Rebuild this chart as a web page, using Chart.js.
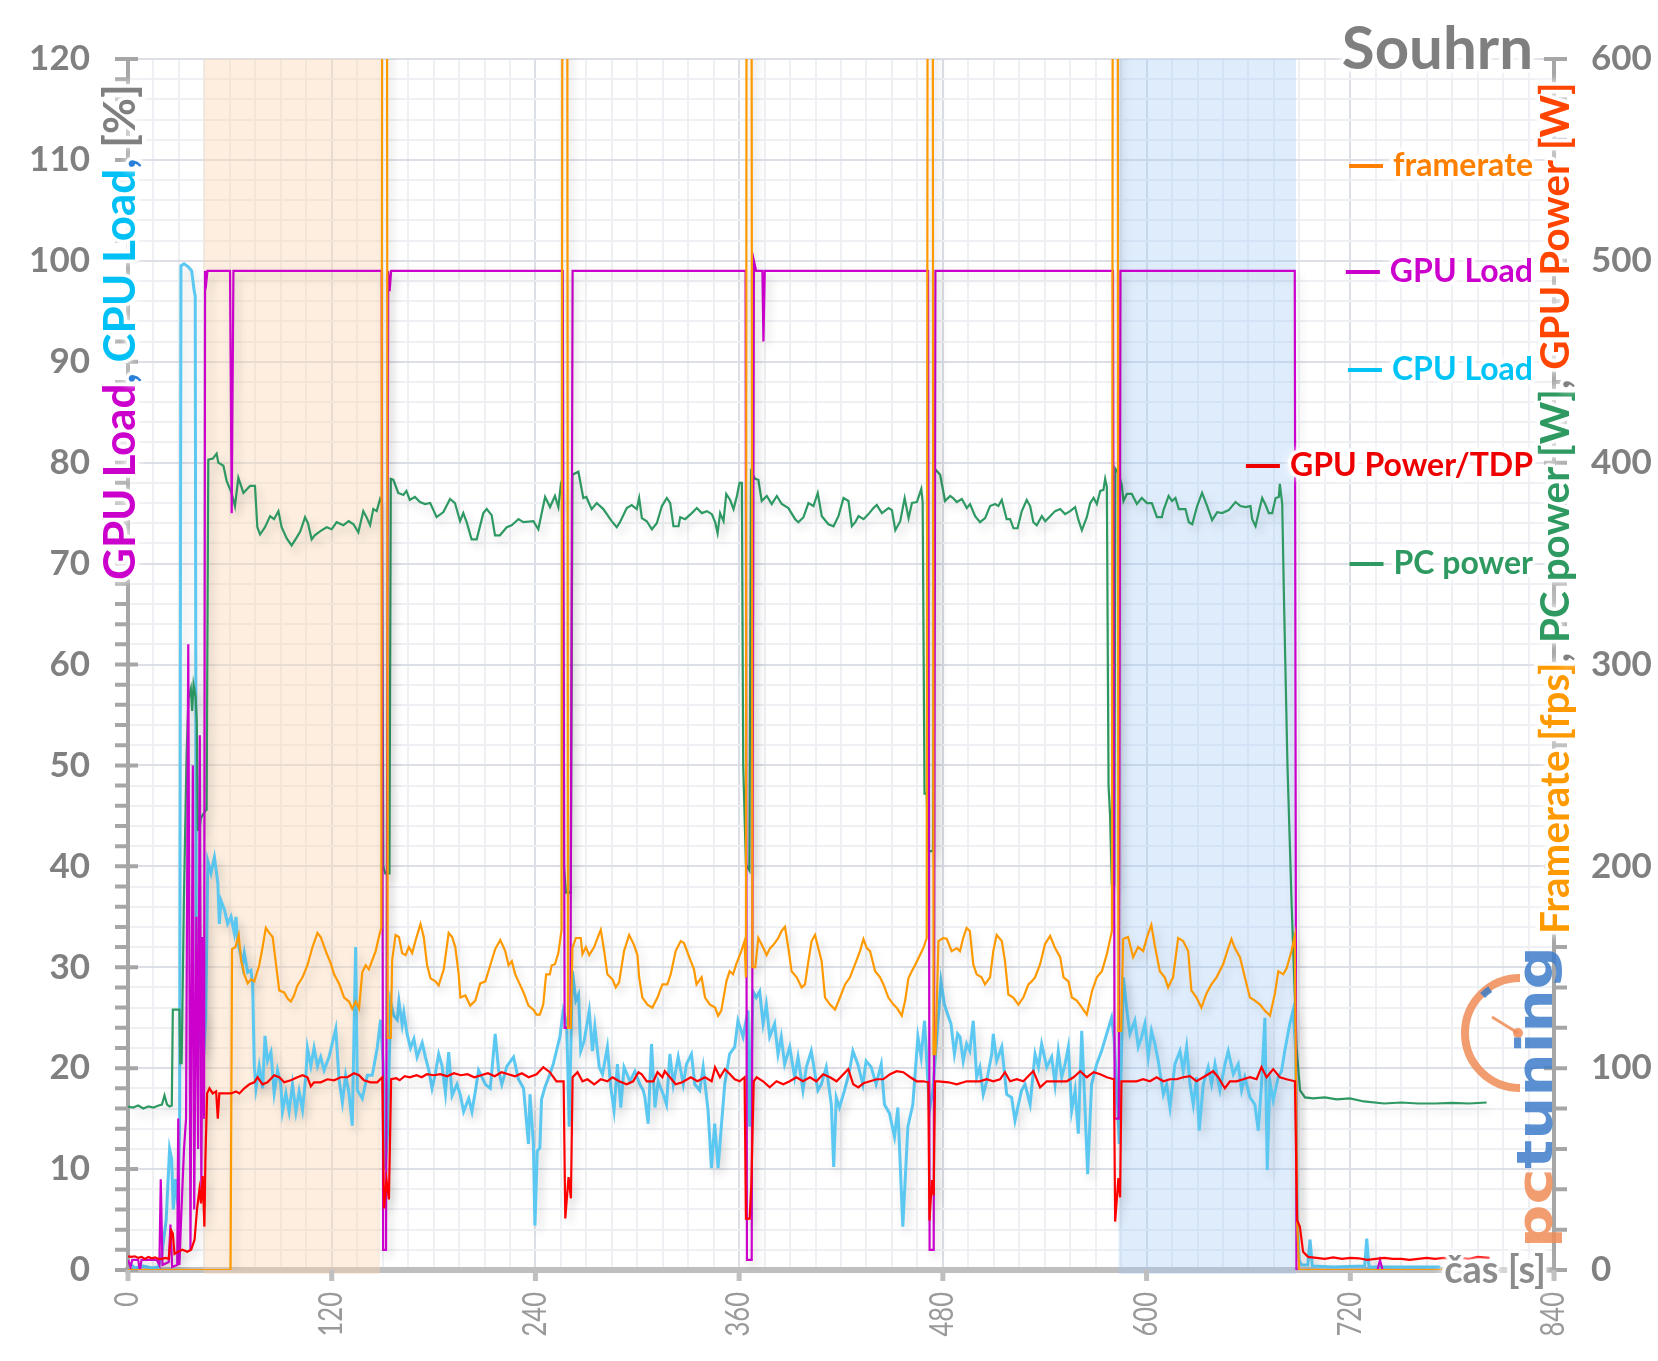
<!DOCTYPE html>
<html>
<head>
<meta charset="utf-8">
<title>Souhrn</title>
<script src="https://cdn.jsdelivr.net/npm/chart.js@4.4.1/dist/chart.umd.min.js"></script>
<style>
  html, body { margin: 0; padding: 0; background: #fff; }
  #wrap { width: 1658px; height: 1361px; }
</style>
</head>
<body>
<div id="wrap"><canvas id="chart" width="1658" height="1361"></canvas></div>
<script>
// time [s] / value pairs
const gpuLoad = [[0,1],[1.5,0.3],[2.5,1],[6,1],[7,0],[8,1],[17,1],[18.5,0.5],[19.3,9],[20.3,0.5],[24,0.8],[25,4.5],[26,0.3],[29,0.5],[29.6,15],[30.3,0.5],[31.5,6],[33,12],[34.2,15],[35.5,62],[36.8,2],[38.2,50],[39,6],[40.3,35],[41.3,12],[42.3,53],[43.2,8],[44,33],[44.8,15],[45.4,99],[46.2,98],[46.8,99],[60.1,99],[61.1,75],[62.1,99],[149.4,99],[150.3,2],[152,2],[153.3,99],[154.1,97],[155,99],[256.1,99],[257.2,24],[260.6,24],[261.9,99],[363.8,99],[364.6,1],[367.4,1],[368.7,100],[370,99],[373.7,99],[374.3,92],[375.1,99],[471.3,99],[472.2,2],[474.6,2],[475.6,99],[580.2,99],[581.2,15],[583.6,15],[584.6,99],[687.3,99],[688.3,0],[736,0],[737.5,1],[739,0],[773,0]];

const cpuLoad = [[0,0.8],[4,0.2],[9,0.4],[14,0.2],[18,0.3],[20,1.6],[22.5,5],[24.5,12],[25.7,11],[26.7,6],[28,9],[29.4,6.5],[30.4,14],[31.2,99.5],[33,99.7],[35.5,99.4],[37.5,99],[39,97],[39.6,96.5],[40.2,30],[41.5,22],[43,26],[44.5,21],[45.8,25],[47,40.5],[48.9,39.3],[50.9,40.9],[52.9,38.4],[53.8,34.3],[54.8,36.6],[56.8,35.7],[58.7,34.3],[60.7,35],[62.6,33.4],[63.6,35],[64.6,32.5],[66.6,31.1],[67.5,30.2],[68.5,31.4],[70.5,29.5],[72.4,29.7],[73.4,28.4],[74.4,20.2],[75.4,18],[77.3,20.2],[79.3,18],[80.7,23.2],[82.2,20.7],[84.2,21.6],[86.1,17.5],[88.1,19.8],[90,18.4],[91,15.7],[93,17.5],[94.9,15.7],[96.9,18.4],[98.9,15.7],[100.8,17.7],[102.8,15.9],[104.8,19.3],[105.7,22],[107.7,20.2],[109.6,22],[111.6,20.2],[113.5,21.1],[115.5,19.8],[118.4,21.1],[120.4,22.5],[122.4,23.9],[124.3,18.9],[126.3,16.6],[128.2,19.3],[130.2,17.5],[132.1,14.3],[134.1,32],[135.1,17.8],[138,17],[141,19.3],[143.9,19.3],[146.8,22],[148.8,24.8],[150.4,20.2],[151.5,10],[153,14],[154.7,26.6],[156.6,25.2],[158.6,24.8],[159.6,26.6],[161.5,24.3],[162.5,25.5],[164.4,23.4],[166.4,22],[168.4,22.9],[170.3,21.1],[173.3,22.5],[175.2,21.1],[177.2,19.8],[179.1,18],[181.1,19.5],[183,21.4],[185,20.2],[187,17.5],[188.9,21.6],[190.9,17.3],[193.8,18.4],[195.8,17.3],[197.7,15.7],[200.7,17],[202.6,15.7],[204.6,17.7],[206.5,19.8],[210.5,18.4],[213.4,18],[216.3,23.4],[218.3,19.8],[220.2,18.4],[223.2,20.2],[227.1,21.1],[230,18.9],[233,18],[235.9,12.5],[236.8,17.4],[238.8,12.5],[239.7,4.4],[241.1,11.8],[242.6,12.1],[243.6,16.9],[245.6,18.1],[248.5,19.4],[250.5,20.4],[252.4,21.7],[254.4,23.1],[256.4,25.7],[258.4,24.4],[259.9,14.2],[261.8,29.6],[263.8,26.7],[265.4,27.3],[266.7,21.7],[268.7,22.7],[271.7,25.7],[273.6,21.7],[275,24.1],[277.6,20.1],[279.5,19.4],[282.4,22.1],[284.4,18.1],[286.3,15.8],[288.3,20.4],[290.3,16.1],[292.2,20.1],[295.7,18.7],[298.6,19.7],[301.5,18.4],[303.5,17.8],[304.5,17.1],[306.4,14.5],[308.4,22.4],[310.4,16.1],[312.3,18.7],[315.3,17.4],[317.2,16.4],[319.2,21.4],[321.2,18.4],[324.1,21.1],[327.1,18.4],[329,20.4],[331.9,21.4],[333.9,18.4],[336.8,17.8],[338.8,20.1],[341.7,15.8],[343.7,10.1],[345.6,14.5],[347.6,10.1],[349.5,14.2],[351.5,18.4],[354.4,21.4],[357.4,22.1],[359.3,24.7],[362.3,23.1],[365.2,25.7],[366.2,14.2],[368.2,27.6],[370.1,27],[372.1,27.6],[374.1,24.4],[376,26.3],[378,23.1],[380.9,24.4],[382.9,21.4],[384.8,23.1],[386.8,20.4],[389.8,22.1],[392.7,19.1],[394.7,21.1],[397.6,17.8],[399.6,20.1],[402.5,21.7],[404.4,19.7],[406.4,17.8],[408.4,18.4],[411.3,20.1],[414.3,16.4],[415.7,10.2],[417.2,17.1],[419.1,16.1],[422.1,17.8],[425,19.7],[427,21.7],[429.9,20.4],[432.9,18.4],[434.8,20.7],[437.8,20.1],[440.7,18.4],[443.7,20.4],[445.6,16.4],[448.6,15.5],[451.5,13.2],[453.5,16.1],[456.4,4.3],[459.4,14.2],[462.3,16.4],[465.3,23.1],[467.2,21.1],[469.2,24.7],[470.2,21.7],[472.1,15.8],[474.1,17.8],[478.9,28.6],[480.9,26.3],[482.9,25.3],[484.8,24.4],[486.8,21.4],[488.7,23.4],[490.1,23.1],[492,20.7],[494,22.4],[495.9,21.7],[497.9,24.7],[499.9,19.1],[501.8,20.1],[503.8,17.4],[505.8,18.7],[508.8,21.4],[509.7,23.4],[511.7,20.7],[514.7,22.1],[517.6,17.4],[520.5,17.1],[522.5,14.8],[524.5,16.4],[526.4,17.8],[528.4,18.4],[531.4,16.4],[534.3,21.4],[536.3,20.1],[538.2,22.4],[541.2,20.1],[544.1,21.1],[546.1,18.4],[548,21.7],[550,19.1],[552,20.4],[553.9,22.1],[555.9,15.8],[557.9,17.8],[559.8,13.5],[561.8,23.7],[563.8,15.8],[565.3,9.5],[567.6,18.4],[570.6,20.4],[573.5,21.7],[576.5,23.4],[579.4,25],[580.8,23.1],[582.4,18.4],[583.9,12.5],[586.3,29],[588.2,26],[590.2,23.4],[593.1,24.7],[595.1,22.1],[597.1,23.1],[599,24.4],[601,21.1],[602.9,23.7],[604.9,22.4],[606.9,20.7],[609.9,17.4],[611.8,18.4],[613.8,16.1],[616.7,20.4],[619.7,21.7],[621.6,19.7],[623.6,22.1],[625.6,18.4],[627.5,16.4],[629.5,19.1],[631,13.8],[633.4,18.4],[636.3,20.1],[638.3,18.4],[640.3,20.4],[643.2,17.8],[646.2,20.4],[648.1,21.7],[651.1,19.4],[654,20.4],[656,17.8],[657.9,19.1],[660.9,17.1],[663.8,16.4],[665.8,13.8],[667.7,18.4],[669.7,25],[671.1,9.9],[672.6,18.7],[674.6,16.8],[677.5,19.1],[679.5,19.7],[681.4,21.7],[684.4,24.4],[686.3,25.7],[687.9,21.7],[688.7,5.3],[689.9,1],[691.2,0.5],[695,0.5],[696.3,3],[697.6,0.4],[710,0.3],[728.5,0.4],[729.7,3.1],[731,0.3],[750,0.3],[773,0.3]];

const framerate = [[0,0],[60.4,0],[61.3,159],[63.3,160],[65.2,166],[66.6,153.5],[68.5,146.5],[70.5,142],[72.4,144],[74.4,143],[77.3,151],[79.3,160],[81.2,169.5],[83.2,167],[85.2,165],[87.1,152],[89.1,138.5],[92,137.5],[94,134.5],[95.9,133],[97.8,136],[99.8,141],[102.8,145],[105.7,151],[108.7,160],[111.6,167],[113.5,165],[116.5,158],[119.4,152],[121.4,146.5],[124.3,142],[127.3,135],[130.2,133],[132.1,129.5],[134.1,133],[136.1,129.5],[138,147.5],[140,151],[141.9,149],[143.9,153.5],[145.9,158],[147.8,165],[149.2,169.5],[150,1000],[152.3,1000],[153,115],[154.8,115],[155.6,153.5],[157.6,166],[159.6,165],[161.5,157],[163.5,156],[165.4,160],[167.4,157],[169.3,163],[172.3,171.5],[174.2,165],[176.2,151],[178.2,144.5],[181.1,143],[183,141],[186,149],[188.9,167],[190.9,165],[192.8,160],[194.8,146.5],[195.8,135],[198.7,136],[201.6,131],[204.6,133.5],[207.5,142],[210.5,143],[213.4,151],[216.3,159],[219.3,163.5],[222.2,158],[224.2,151],[226.1,153],[228.1,146.5],[230,143],[233,137.5],[235.9,131],[238.8,129],[240.7,126.5],[242.6,126.5],[244.6,131.5],[246.3,146.5],[248.5,146.5],[249.6,151],[251.5,151.5],[253.5,157],[255.4,168.5],[256.2,1000],[258.5,1000],[259.2,120],[260.8,120],[261.8,159.5],[263.8,164.5],[266.7,164.5],[267.7,156.5],[269.7,160],[271.7,156],[274.6,160],[276.6,164.5],[278.5,168.5],[280.5,158],[282.4,146.5],[285.4,144],[287.3,140],[289.3,142.5],[292.2,158],[295.2,166],[298.1,161],[300.1,156],[301.1,145],[303,135],[306,131.5],[308.9,130],[311.9,135],[314.8,141.5],[317.7,141.5],[319.7,146.5],[322.6,158],[325.6,163],[327.5,162],[331.5,153],[333.4,149],[334.9,141.5],[337.9,145],[339.9,135],[342.8,131.5],[345.8,130],[347.6,126],[349.5,128.5],[352.5,143],[354.4,148],[356.4,146.5],[358.3,151.5],[361.3,158],[363.2,163],[364,145],[364.6,1000],[367,1000],[367.8,150],[369.5,150],[371.3,164.5],[374.3,159.5],[376.2,156],[378.2,159.5],[380.1,161],[383.1,164.5],[385,168],[387,170],[389,159.5],[390.9,148],[393.9,145],[396.8,140],[398.8,141.5],[400.8,153],[402.7,163],[404.7,166],[406.6,159.5],[408.6,153],[410.6,135],[413.5,131.5],[416.5,129],[419.4,135],[422.4,141.5],[425.3,145],[428.3,151.5],[431.2,158],[433.2,164],[435.2,159.5],[437.1,158],[440.1,148],[443,145],[445,141.5],[447.9,135],[450.9,131.5],[452.8,130],[455.8,126],[457.8,133.5],[459.7,144.5],[461.7,148],[463.6,151],[465.6,154.5],[468.5,159.5],[470.5,164.5],[471.4,1000],[473.8,1000],[474.5,107],[475.6,107],[477.4,163],[480.3,164.5],[482.3,164],[485.2,158],[488.2,159.5],[490.1,158],[492,164.5],[494,169.5],[495.9,168],[497.9,151.5],[499.9,146.5],[502.8,145],[504.8,141.5],[507.8,145],[509.7,158],[511.7,166],[514.7,163],[516.6,153],[518.6,136.5],[521.5,135],[524.5,131.5],[527.4,135],[530.4,141.5],[532.3,143],[534.3,145],[537.3,151.5],[540.2,161.5],[543.2,165.5],[546.1,159.5],[549.1,155],[551.1,145],[554,143],[556,135],[558.9,133.5],[561.9,130],[564.8,126.5],[567.8,138],[570.7,145],[573.7,148],[576.6,156.5],[579.6,168],[580.4,1000],[582.8,1000],[583.4,118.5],[585,118.5],[586.2,164],[589.1,165],[592.1,155],[595,160],[598,158],[600.3,165],[602.8,171],[604.8,161],[607.8,148],[610.7,145],[612.7,140],[615.6,145],[618.6,164.5],[621.5,163],[624.5,158],[626.4,138.5],[629.4,135],[632.3,130],[635.3,137],[638.2,141.5],[641.2,145],[645.1,151.5],[648.1,159.5],[650,164],[652,159.5],[655,155],[657.9,145],[660.9,135],[663.8,133.5],[666.8,131.5],[669.7,128.5],[672.7,126],[675.6,137],[677.6,148],[680.5,146.5],[682.5,149.5],[685.4,158],[687.3,165.5],[688.7,23],[689.9,0],[775,0]];

const pcPower = [[0,81],[3,80.5],[6,81.5],[9,80],[12,81],[15,80.5],[18,81.5],[20,82],[21.5,86.5],[23,82],[24.5,81],[25.8,81.5],[26.4,129],[30.3,129],[30.8,102.5],[31.6,102.5],[32.9,182],[34.5,255],[35.6,283],[37,288],[37.8,277],[38.6,290],[39.8,284],[40.5,272],[41.2,218],[42.1,218],[43,224],[45.5,227.5],[46.3,228],[47.3,401.5],[50,402],[52.2,404.5],[53.2,400],[56.2,398.5],[58.1,391],[61,385],[63,378.5],[65,392.5],[68,385],[71.9,388.5],[74.8,388.5],[76.2,368],[77.8,364.5],[80.7,368],[83.7,373.5],[86,372],[88.6,376],[90.5,368],[93.5,362.5],[96.4,359],[99.4,363],[101.5,366],[104.3,373],[106,370],[108.2,362],[110,364],[113.1,366],[117,368],[120,367],[122.9,370.5],[126.9,369],[130,371],[132.8,369.5],[135.7,365.5],[138.6,376],[140.5,373],[142.6,369],[144.5,377],[146.5,376],[148.5,382],[149.6,380],[150.4,200],[151.5,196.5],[154,196.5],[154.8,392],[156.3,391.5],[159.2,385],[162.2,384],[164,386],[166,381.5],[169,383],[172,380.5],[175,379.5],[178,380],[181.8,373],[185.8,375.5],[189.7,382],[192.6,380],[195.6,371],[197.5,375],[199.5,370.5],[202.4,362],[205.4,362],[209.3,375],[211.3,377],[214.2,374],[216.2,364],[219.1,364],[223.1,368],[226,369],[228,370.5],[230,372],[232.9,370.5],[238.8,371],[241.7,367],[242.7,371],[245.7,383],[248.6,378],[251.5,383.5],[253.5,378],[254.9,388.5],[256.1,385],[256.8,200],[258,187],[260.8,187],[261.8,394],[265.3,395.5],[268.2,382.5],[270,383],[273.1,377],[276.1,380],[280,377],[284.9,371],[287.9,368],[289.8,370.5],[293.8,377.5],[296.7,379],[299.7,377],[301.1,382.5],[302.7,372.5],[305.6,371],[308.6,367],[311.5,370],[314.5,378.5],[317.4,382.5],[319.4,380],[321.3,368.5],[324.3,368.5],[325.3,373],[328.2,372],[332.1,375],[335.1,377.5],[338,375],[341,376],[343.9,374.5],[345.9,370.5],[347.3,365],[348.8,375],[350.8,371],[352.4,384.5],[354.7,381.5],[356.7,377],[358.7,383.5],[360.2,390],[361.6,390],[362.4,250],[364,201],[366,198],[367,395.5],[369.4,392],[371.3,391.5],[373.3,381],[376.3,383.5],[379.2,379.5],[382.2,383.5],[385.1,379.5],[389,377.5],[393,372],[394.9,370.5],[397.9,373],[400.8,380],[403.8,378.5],[406.3,385],[408.7,373.5],[412.6,369.5],[415.6,368.5],[418.5,373.5],[421.5,382.5],[424.4,381],[426.4,368.5],[428.4,370.5],[430.3,373.5],[433.3,372],[436.2,374.5],[439.1,377.5],[441.1,379],[444.1,375],[448,377.5],[450,376.5],[452,366.5],[454.9,371],[457.5,382.5],[459.8,372.5],[461.8,380],[464.7,380.5],[467.3,387],[468.1,380.5],[469.2,236],[470.5,236],[471.3,207.5],[474.2,207.5],[475.2,397],[478.4,394],[481.3,381],[484.3,383.5],[486,382.5],[488.2,380.5],[491.2,382],[494.1,377.5],[496,379.5],[499,373.5],[501.9,370.5],[504.9,372.5],[507.8,378.5],[510.8,379.5],[512.7,378.5],[514.7,381.5],[517.6,372],[519.6,372],[521.6,367.5],[524,367.5],[526.5,376],[529.4,381.5],[531.4,378.5],[533.3,370.5],[535.3,369],[538.3,373.5],[540.3,371],[543.2,373.5],[546.1,376],[549.1,377],[552,374.5],[555,376],[557.9,378],[559.9,371.5],[561.9,366.5],[564.8,373],[566.8,380],[568.8,382.5],[570.7,379.5],[572.7,386],[574.6,386.5],[575.6,392],[576.6,388],[577.6,240],[578.5,225.5],[579.5,191],[581,191],[581.6,397],[583.5,394.5],[585.4,389],[586.4,381],[588.4,384.5],[591.3,384.5],[594.3,379.5],[597.2,382.5],[600.2,380],[603.1,380],[606.1,373],[609,373],[610,376.5],[613,383.5],[615,381],[617,382.5],[619,377],[622.9,377],[624.9,370.5],[626.9,369.5],[629.8,378.5],[632.7,385],[635.7,378.5],[638.6,371.5],[641.6,375.5],[644.5,375],[648.4,376.5],[652.4,380.5],[655.3,378.5],[658.3,378],[661.2,378.5],[662.2,372],[664.2,368.5],[666.1,375.5],[668.1,382.5],[670.1,379],[672,375],[674,375],[676,382.5],[677.9,383],[678.5,389.5],[679.9,379.5],[681,330],[683,250],[685.5,180],[688.4,110],[690.4,89],[693.3,85.5],[698,85],[705,85.5],[712,84.5],[719.8,85],[728,83.5],[740,82.5],[750,83],[760,82.5],[770,82.5],[780,82.8],[790,82.5],[800.3,83]];

const gpuPower = [[0,6.8],[2,6.5],[4,6.8],[6,6],[8,6.5],[10,5.5],[12,6.5],[14,5.8],[16,6.2],[18,5.5],[20,5.5],[22,6],[24,5.5],[25.5,19.5],[26.4,18],[27.4,8],[29.4,9],[32,10],[35,9],[37.2,10],[39.2,15],[40.7,30.5],[42.1,40],[43,33],[44,46.5],[45,21.5],[45.6,55],[46.6,87.5],[48,90],[49.9,87.5],[51.9,88.5],[52.9,75],[53.8,87.5],[56.8,87.5],[60.7,87.5],[63.6,88.5],[65.6,87.5],[68.5,90],[71.5,92],[74.4,93],[76.3,95.5],[79.3,92],[82.2,93],[86.1,96.5],[89.1,95.5],[92,93],[95.9,94],[99.8,95.5],[102.8,96.5],[105.7,95.5],[107.7,91],[109.6,93],[113.5,93],[117.5,94.5],[121.4,94],[125.3,95.5],[129.2,95.5],[133.1,97.5],[136.1,96.5],[139,94],[142.9,93],[146.8,93],[149.8,95.5],[150.8,30.5],[152.3,44.5],[153.7,35],[155,94.5],[158,95],[160,94],[163,96],[166,95.5],[170,96.5],[173,95.5],[176,97],[180,96.5],[184,97],[188,96],[192,97.5],[196,96.5],[200,97],[204,95.5],[208,96.5],[212,97.5],[216,96],[220,98],[224,97],[228,96],[232,97.5],[236,95.5],[240.7,97],[244.6,100.5],[248.5,98],[252.4,93.5],[256.6,93.5],[257.6,25.5],[259.5,46],[260.9,35.5],[261.9,95.5],[264.8,98],[267.7,93.5],[270.7,94.5],[274.6,92],[278.5,94.5],[282.4,93.5],[285.4,95.5],[289.3,93.5],[293.7,92],[297.6,93.5],[300.7,98],[302.6,97],[305.6,93.5],[309.5,93.5],[311.9,98],[314.8,95.5],[316.2,98.5],[319.2,95.5],[322.6,92],[326.5,93],[331.5,95.5],[335.4,93.5],[339.9,95.5],[343.8,93.5],[345.8,100.5],[348.7,95.5],[351.6,99.5],[354.6,97],[357.4,94.5],[360.3,93.5],[363.2,95.5],[364,25.5],[366.2,25.5],[367.2,43],[368.6,93.5],[370.3,95.5],[374.1,93.5],[378,90.5],[382,93.5],[386,92],[389.8,93.5],[393.7,95.5],[397.6,93.5],[401.7,95.5],[405.5,93.5],[409.5,97],[413.5,95.5],[417.4,93.5],[421.4,97],[424.3,99.5],[427.2,92],[430.2,90.5],[433.2,92.5],[437.1,93.5],[441,94.5],[444.9,94.5],[448.9,97],[452.8,98.5],[456.7,98],[460.8,95.5],[464.6,93.5],[468.5,93.5],[471.4,93],[472.1,24.5],[473.6,44.5],[474.6,37],[475.4,93.5],[477.4,93.5],[483.3,93],[488.2,92],[494,93.5],[497.9,93.5],[501.8,93.5],[505.8,94.5],[509.7,93.5],[513.7,94.5],[516.6,98],[519.6,93.5],[523.5,94.5],[527.4,93.5],[531.4,97],[533.3,98.5],[537.3,90.5],[541.2,93.5],[545.2,93.5],[549.1,93.5],[553,93.5],[557,95.5],[560.9,98.5],[564.8,95.5],[568.8,98],[572.7,97],[576.6,95.5],[580.8,94.5],[581.5,24],[583.4,45.5],[584.4,36],[585.2,93.5],[590.2,93.5],[594.1,93.5],[598,94.5],[602,93.5],[605.9,95.5],[609.9,93.5],[613.8,94.5],[617.7,94.5],[621.6,95.5],[625.6,96],[629.4,93.5],[633.4,95.5],[636.3,97],[639.2,98.5],[642.2,95.5],[646.1,90],[649.1,93.5],[653,93.5],[657,94.5],[660.9,95.5],[664.8,94.5],[667.7,100.5],[670.7,95.5],[674.6,99.5],[678.5,95.5],[682.5,94.5],[687.4,93.5],[688.7,24.5],[690.3,21.5],[692.2,9],[695.1,6.5],[700,6],[705,5.5],[710,6.2],[715,5.5],[720,6],[725,5.8],[730,5],[735,5.5],[740,6],[745,5.5],[750,5.5],[755,5],[760,5.5],[765,6],[770,5.5],[775,6],[780,5.5],[785,6],[790,5.5],[795,6.5],[802,6]];

// highlighted test sections [s]
const bandStarts = [44.5, 583.5];
const bandEnds = [148.5, 688];

// labelled time ticks [s]
const xTickLabels = [0, 120, 240, 360, 480, 600, 720, 840];

const legendLabels = ['framerate', 'GPU Load', 'CPU Load', 'GPU Power/TDP', 'PC power'];
const legendColors = ['#ff8000', '#cc00cc', '#00c4f5', '#ee0000', '#2e9960'];

const FONT = 'Lato, "Open Sans", sans-serif';

function pts(arr) {
    return arr.map(p => ({ x: p[0], y: p[1] }));
}

function lineSet(label, data, color, width, axis) {
    return {
        label: label,
        data: pts(data),
        borderColor: color,
        borderWidth: width,
        pointRadius: 0,
        tension: 0,
        fill: false,
        yAxisID: axis
    };
}

function glowFill(ctx, text, x, y, color) {
    ctx.save();
    ctx.lineJoin = 'round';
    ctx.strokeStyle = 'rgba(255,255,255,0.95)';
    ctx.lineWidth = 7;
    ctx.shadowColor = '#ffffff';
    ctx.shadowBlur = 8;
    ctx.strokeText(text, x, y);
    ctx.restore();
    ctx.fillStyle = color;
    ctx.fillText(text, x, y);
}

// vertical multi-colour title, fitted to a given length
function rotatedTitle(ctx, parts, x, y, targetLen, baseSize) {
    ctx.save();
    ctx.font = 'bold ' + baseSize + 'px ' + FONT;
    let total = 0;
    parts.forEach(p => { total += ctx.measureText(p[0]).width; });
    const size = baseSize * targetLen / total;
    ctx.font = 'bold ' + size + 'px ' + FONT;
    ctx.translate(x, y);
    ctx.rotate(-Math.PI / 2);
    ctx.textAlign = 'left';
    ctx.textBaseline = 'alphabetic';
    let pos = 0;
    parts.forEach(p => {
        glowFill(ctx, p[0], pos, 0, p[1]);
        pos += ctx.measureText(p[0]).width;
    });
    ctx.restore();
}

const bandsPlugin = {
    id: 'bands',
    beforeDatasetsDraw(chart) {
        const { ctx, chartArea: a, scales: { x } } = chart;
        const colors = ['rgba(251,213,176,0.4)', 'rgba(160,200,245,0.35)'];
        ctx.save();
        bandStarts.forEach((s, i) => {
            const x0 = x.getPixelForValue(s);
            const x1 = x.getPixelForValue(bandEnds[i]);
            ctx.fillStyle = colors[i];
            ctx.fillRect(x0, a.top, x1 - x0, a.bottom - a.top + 4);
        });
        ctx.restore();
    }
};

const axisTicksPlugin = {
    id: 'axisTicks',
    beforeDatasetsDraw(chart) {
        const { ctx, chartArea: a, scales: { x, y, y2 } } = chart;
        ctx.save();
        ctx.strokeStyle = '#a6a6a6';
        ctx.lineWidth = 4;
        ctx.beginPath();
        for (let v = 0; v <= 120; v += 2) {
            const py = y.getPixelForValue(v);
            ctx.moveTo(a.left - 13, py);
            ctx.lineTo(v % 10 === 0 ? a.left + 10 : a.left, py);
        }
        for (let v = 0; v <= 600; v += 20) {
            const py = y2.getPixelForValue(v);
            ctx.moveTo(v % 100 === 0 ? a.right - 10 : a.right, py);
            ctx.lineTo(a.right + 13, py);
        }
        ctx.stroke();
        ctx.strokeStyle = '#bfbfbf';
        ctx.lineWidth = 5;
        ctx.beginPath();
        xTickLabels.forEach(v => {
            const px = x.getPixelForValue(v);
            ctx.moveTo(px, a.bottom);
            ctx.lineTo(px, a.bottom + 11);
        });
        ctx.stroke();

        // rotated, slightly condensed time labels
        ctx.font = '32px ' + FONT;
        ctx.fillStyle = '#9a9a9a';
        ctx.textAlign = 'right';
        ctx.textBaseline = 'middle';
        xTickLabels.forEach(v => {
            const px = x.getPixelForValue(v);
            ctx.save();
            ctx.translate(px, a.bottom + 22);
            ctx.rotate(-Math.PI / 2);
            ctx.scale(0.8, 1);
            ctx.fillText(String(v), 0, 0);
            ctx.restore();
        });
        ctx.restore();
    }
};

const shadowPlugin = {
    id: 'lineShadow',
    beforeDatasetDraw(chart) {
        const c = chart.ctx;
        c.save();
        c.shadowColor = 'rgba(0,0,0,0.16)';
        c.shadowBlur = 10;
        c.shadowOffsetX = 4;
        c.shadowOffsetY = 6;
    },
    afterDatasetDraw(chart) {
        chart.ctx.restore();
    }
};

const decorPlugin = {
    id: 'decor',
    afterDraw(chart) {
        const { ctx, chartArea: a } = chart;

        // pctuning watermark
        ctx.save();
        ctx.globalAlpha = 0.85;
        const gx = a.right - 34, gy = a.bottom - 237;
        ctx.strokeStyle = '#f08c56';
        ctx.lineWidth = 8;
        ctx.beginPath();
        ctx.arc(gx, gy, 55, Math.PI / 2, Math.PI * 1.5);
        ctx.stroke();
        ctx.strokeStyle = '#3d7cc9';
        ctx.lineWidth = 7;
        ctx.beginPath();
        ctx.arc(gx, gy, 53, Math.PI * 1.25, Math.PI * 1.31);
        ctx.stroke();
        ctx.strokeStyle = '#f08c56';
        ctx.lineWidth = 3;
        ctx.beginPath();
        ctx.moveTo(gx - 2, gy);
        ctx.lineTo(gx - 28, gy - 16);
        ctx.stroke();
        ctx.fillStyle = '#f08c56';
        ctx.beginPath();
        ctx.arc(gx - 2, gy, 5, 0, Math.PI * 2);
        ctx.fill();
        ctx.translate(a.right - 2, a.bottom - 22);
        ctx.rotate(-Math.PI / 2);
        ctx.font = 'bold 50px "DejaVu Sans"';
        ctx.textBaseline = 'alphabetic';
        const w1 = ctx.measureText('pc').width;
        const w2 = ctx.measureText('tuning').width;
        ctx.scale(302 / (w1 + w2), 1);
        ctx.fillStyle = '#f08c56';
        ctx.fillText('pc', 0, 0);
        ctx.fillStyle = '#3d7cc9';
        ctx.fillText('tuning', w1, 0);
        ctx.restore();

        // axis titles
        rotatedTitle(ctx, [
            ['GPU Load', '#cc00cc'], [', ', '#2a7fd8'], ['CPU Load', '#00c0f5'], [', ', '#2a7fd8'], ['[%]', '#808080']
        ], a.left + 7, a.top + 521, 496, 44);
        rotatedTitle(ctx, [
            ['Framerate [fps]', '#ff9900'], [', ', '#808080'], ['PC power [W]', '#2e9960'], [', ', '#808080'], ['GPU Power [W]', '#ff4500']
        ], a.right + 15, a.top + 875, 852, 44);

        ctx.save();
        // title
        ctx.font = 'bold 60px ' + FONT;
        ctx.textAlign = 'right';
        ctx.textBaseline = 'alphabetic';
        glowFill(ctx, 'Souhrn', a.right - 21, a.top + 10, '#7f7f7f');

        // x axis title
        ctx.font = 'bold 38px ' + FONT;
        glowFill(ctx, 'čas [s]', a.right - 8, a.bottom + 13, '#8c8c8c');

        // legend
        const rows = [107, 213, 311, 407, 505];
        ctx.font = 'bold 32px ' + FONT;
        ctx.textBaseline = 'middle';
        legendLabels.forEach((lab, i) => {
            const yy = a.top + rows[i];
            const xr = a.right - 21;
            const w = ctx.measureText(lab).width;
            glowFill(ctx, lab, xr, yy, legendColors[i]);
            ctx.save();
            ctx.strokeStyle = legendColors[i];
            ctx.lineWidth = 4;
            ctx.beginPath();
            ctx.moveTo(xr - w - 44, yy);
            ctx.lineTo(xr - w - 10, yy);
            ctx.stroke();
            ctx.restore();
        });
        ctx.restore();
    }
};

function gridColor(step) {
    return ctx => (ctx.tick && ctx.tick.value % step === 0) ? '#dcdfe6' : '#eef0f4';
}

new Chart(document.getElementById('chart'), {
    type: 'line',
    data: {
        datasets: [
            lineSet('GPU Power/TDP', gpuPower, '#ff0000', 2.2, 'y2'),
            lineSet('framerate', framerate, '#ff9900', 2.2, 'y2'),
            lineSet('GPU Load', gpuLoad, '#cc00cc', 2.2, 'y'),
            lineSet('PC power', pcPower, '#2e9963', 2.2, 'y2'),
            lineSet('CPU Load', cpuLoad, '#5bc8f2', 3, 'y')
        ]
    },
    options: {
        responsive: false,
        devicePixelRatio: 1,
        animation: false,
        layout: { autoPadding: false, padding: { top: 55, left: 0, right: 0, bottom: 0 } },
        plugins: {
            legend: { display: false },
            tooltip: { enabled: false }
        },
        scales: {
            x: {
                type: 'linear',
                min: 0,
                max: 840,
                afterFit: s => { s.height = 91; },
                ticks: { stepSize: 15, autoSkip: false, display: false },
                grid: { drawTicks: false, color: gridColor(120), lineWidth: 2 },
                border: { color: '#bfbfbf', width: 6 }
            },
            y: {
                position: 'left',
                min: 0,
                max: 120,
                afterFit: s => { s.width = 128; },
                ticks: {
                    stepSize: 2,
                    autoSkip: false,
                    padding: 38,
                    color: '#808080',
                    font: { family: FONT, size: 35, weight: 'bold' },
                    callback: v => (v % 10 === 0 ? String(v) : '')
                },
                grid: { drawTicks: false, color: gridColor(10), lineWidth: 2 },
                border: { color: '#a6a6a6', width: 4 }
            },
            y2: {
                position: 'right',
                min: 0,
                max: 600,
                afterFit: s => { s.width = 104; },
                ticks: {
                    stepSize: 100,
                    autoSkip: false,
                    padding: 37,
                    color: '#808080',
                    font: { family: FONT, size: 35, weight: 'bold' }
                },
                grid: { display: false, drawTicks: false },
                border: { color: '#a6a6a6', width: 4 }
            }
        }
    },
    plugins: [bandsPlugin, axisTicksPlugin, shadowPlugin, decorPlugin]
});
</script>
</body>
</html>
